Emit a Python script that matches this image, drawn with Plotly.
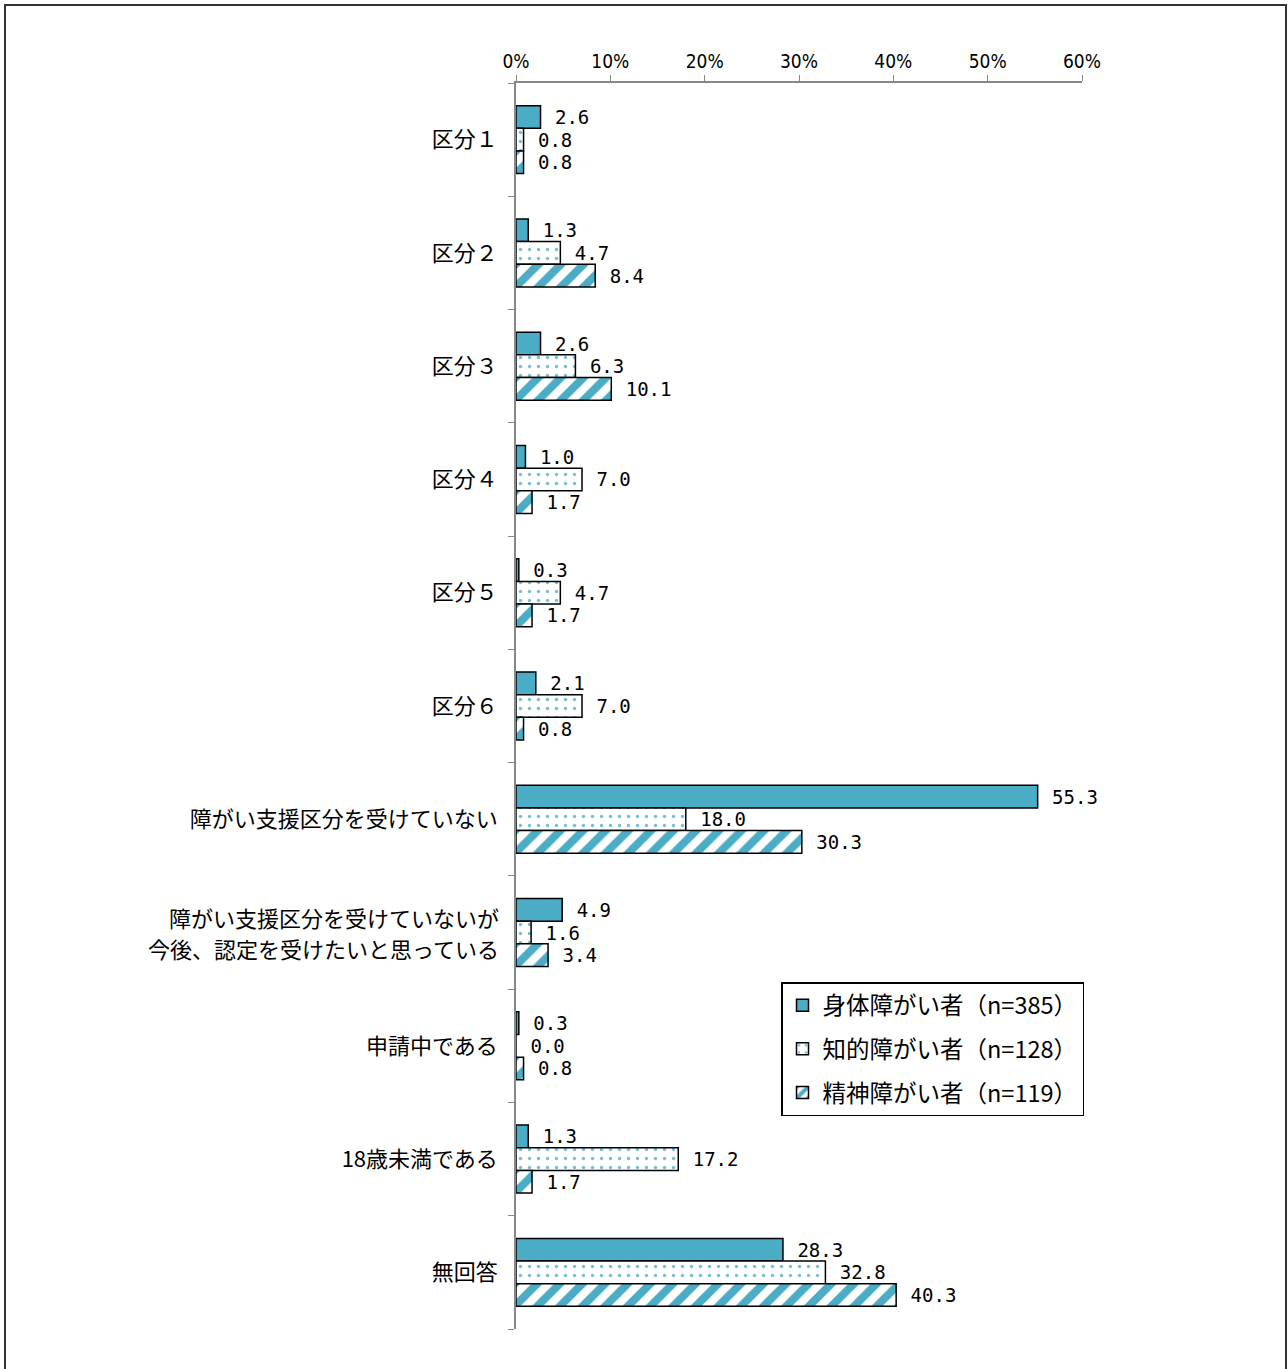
import plotly.graph_objects as go

categories = ["区分１", "区分２", "区分３", "区分４", "区分５", "区分６",
              "障がい支援区分を受けていない",
              "障がい支援区分を受けていないが 今後、認定を受けたいと思っている",
              "申請中である", "18歳未満である", "無回答"]
# display lines for each category label (two-line label split)
label_lines = [[c] for c in categories[:7]] + [["障がい支援区分を受けていないが", "今後、認定を受けたいと思っている"]] + [[c] for c in categories[8:]]
series_names = ["身体障がい者（n=385）", "知的障がい者（n=128）", "精神障がい者（n=119）"]
physical = [2.6, 1.3, 2.6, 1.0, 0.3, 2.1, 55.3, 4.9, 0.3, 1.3, 28.3]
intellectual = [0.8, 4.7, 6.3, 7.0, 4.7, 7.0, 18.0, 1.6, 0.0, 17.2, 32.8]
mental = [0.8, 8.4, 10.1, 1.7, 1.7, 0.8, 30.3, 3.4, 0.8, 1.7, 40.3]
x_ticks = [0, 10, 20, 30, 40, 50, 60]

TEAL = "#4BACC6"
W, H = 1288, 1369
L, R, T, B = 516, 206, 83, 40

fig = go.Figure()
styles = [
    dict(color=TEAL),
    dict(color="white", pattern=dict(shape=".", fgcolor=TEAL, bgcolor="white", fgopacity=0.75, size=9, solidity=0.12)),
    dict(color="white", pattern=dict(shape="/", fgcolor=TEAL, bgcolor="white", fgopacity=1, size=16, solidity=0.5)),
]
for i, (name, vals, st) in enumerate(zip(series_names, [physical, intellectual, mental], styles)):
    fig.add_trace(go.Bar(
        y=categories, x=vals, name=name, orientation="h",
        legendgroup=f"g{i}",
        marker=dict(line=dict(color="black", width=1.5), **st),
        text=[f"\u00a0{v:.1f}" for v in vals], textposition="outside",
        textfont=dict(family="DejaVu Sans Mono", size=19, color="black"),
        cliponaxis=False,
    ))

ticktext = [lines[0] if len(lines) == 1 else "" for lines in label_lines]

fig.update_layout(
    width=W, height=H,
    margin=dict(l=L, r=R, t=T, b=B),
    paper_bgcolor="white", plot_bgcolor="white",
    barmode="group", bargap=0.4, bargroupgap=0,
    font=dict(family="Noto Sans CJK JP", color="black"),
    showlegend=True,
    legend=dict(
        x=(781 - L) / (W - L - R), y=(H - B - 982) / (H - T - B),
        xanchor="left", yanchor="top",
        bordercolor="black", borderwidth=1.5, bgcolor="white",
        font=dict(size=23.5, family="Noto Sans CJK JP"),
        traceorder="grouped", tracegroupgap=10, itemwidth=30,
    ),
    xaxis=dict(
        side="top", range=[0, 60], tickvals=x_ticks,
        ticktext=[f"{v}%" for v in x_ticks],
        showgrid=False, zeroline=False,
        showline=True, linecolor="#888888", linewidth=1.5,
        ticks="outside", ticklen=6, tickcolor="#888888",
        tickfont=dict(size=19, family="DejaVu Sans Condensed, Noto Sans CJK JP"),
    ),
    yaxis=dict(
        autorange="reversed", type="category",
        tickvals=categories, ticktext=ticktext,
        showgrid=False, showline=True, linecolor="#888888", linewidth=1.5,
        ticks="outside", ticklen=6, tickcolor="#888888", tickson="boundaries",
        tickfont=dict(size=22, family="Noto Sans CJK JP"),
        ticklabelstandoff=12,
    ),
)

for cat, lines in zip(categories, label_lines):
    if len(lines) > 1:
        n = len(lines)
        for j, line in enumerate(lines):
            fig.add_annotation(
                x=0, xref="paper", y=cat, yref="y",
                text=line, showarrow=False, xanchor="right", yanchor="middle",
                xshift=-15, yshift=(n - 1) * 15.5 - j * 31,
                font=dict(size=22, family="Noto Sans CJK JP", color="black"),
            )

pw, ph = W - L - R, H - T - B
fig.add_shape(type="rect", xref="paper", yref="paper",
              x0=(5 - L) / pw, x1=(1286 - L) / pw,
              y0=(H - B - 1380) / ph, y1=(H - B - 5) / ph,
              line=dict(color="#333333", width=2), fillcolor="rgba(0,0,0,0)", layer="below")

fig.write_html("out.html")
